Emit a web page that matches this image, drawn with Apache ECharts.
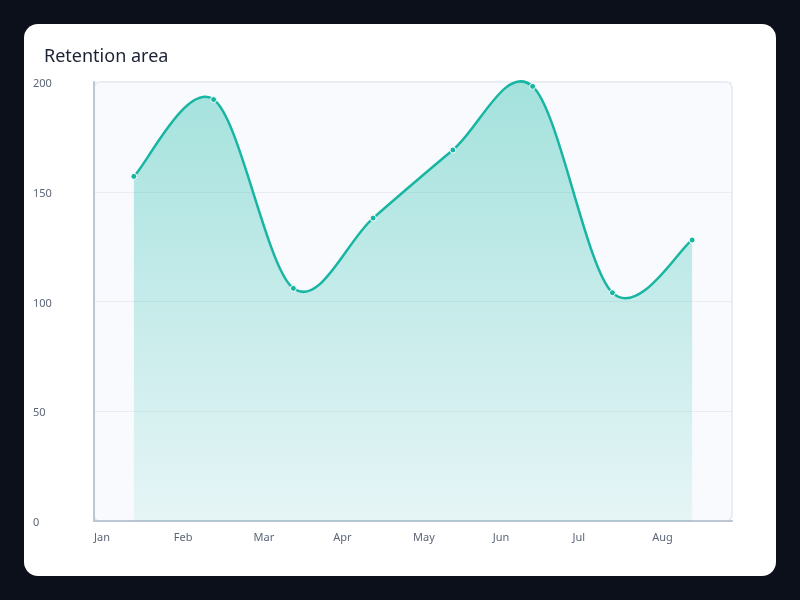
<!DOCTYPE html>
<html>
<head>
<meta charset="utf-8">
<script src="https://cdn.jsdelivr.net/npm/echarts@6/dist/echarts.min.js"></script>
<style>
    html, body { margin: 0; padding: 0; width: 800px; height: 600px; background: #0c101a; }
    #card {
        position: absolute; left: 24px; top: 24px; width: 752px; height: 552px;
        background: #ffffff; border-radius: 14px; overflow: hidden;
    }
    #chart { width: 752px; height: 552px; }
</style>
</head>
<body>
<div id="card"><div id="chart"></div></div>
<script>
// Datos
const meses = ['Jan', 'Feb', 'Mar', 'Apr', 'May', 'Jun', 'Jul', 'Aug'];
const retencion = [157, 192, 106, 138, 169, 198, 104, 128];
const ticksY = [0, 50, 100, 150, 200];

const grid = {left: 70, top: 58, right: 44, bottom: 55};
const verde = '#17b6a2';

const chartDom = document.getElementById('chart');
const myChart = echarts.init(chartDom);

// cada punto en el centro de su mes
const datos = retencion.map((v, i) => [i + 0.5, v]);

/**
 * Curva Catmull-Rom (uniforme) que pasa por los puntos, como path SVG.
 * El smooth de ECharts no deja pasarse de los puntos, asi que se dibuja a mano.
 */
function curvaCatmull(pts) {
    let d = `M${pts[0][0]},${pts[0][1]}`;
    for (let i = 0; i < pts.length - 1; i++) {
        const p0 = pts[i - 1] || pts[i];
        const p1 = pts[i];
        const p2 = pts[i + 1];
        const p3 = pts[i + 2] || p2;
        const c1x = p1[0] + (p2[0] - p0[0]) / 6;
        const c1y = p1[1] + (p2[1] - p0[1]) / 6;
        const c2x = p2[0] - (p3[0] - p1[0]) / 6;
        const c2y = p2[1] - (p3[1] - p1[1]) / 6;
        d += ` C${c1x},${c1y} ${c2x},${c2y} ${p2[0]},${p2[1]}`;
    }
    return d;
}

function pintarCurva(params, api) {
    // se pinta toda la curva una sola vez
    if (params.dataIndex !== 0) return null;
    const pts = datos.map(d => api.coord(d));
    const base0 = api.coord([datos[0][0], 0]);
    const baseN = api.coord([datos[datos.length - 1][0], 0]);
    const linea = curvaCatmull(pts);
    const area = linea + ` L${baseN[0]},${baseN[1]} L${base0[0]},${base0[1]} Z`;
    return {
        type: 'group',
        children: [
            {
                type: 'path',
                shape: {pathData: area},
                style: {
                    fill: new echarts.graphic.LinearGradient(0, 0, 0, 1, [
                        {offset: 0, color: 'rgba(20,184,166,0.37)'},
                        {offset: 1, color: 'rgba(20,184,166,0.08)'}
                    ]),
                    stroke: null
                }
            },
            {
                type: 'path',
                shape: {pathData: linea},
                style: {fill: null, stroke: verde, lineWidth: 2.5}
            }
        ]
    };
}

const option = {
    animation: false,
    textStyle: {fontFamily: 'Noto Sans'},
    title: {
        text: 'Retention area',
        left: 20,
        top: 24,
        padding: 0,
        textStyle: {fontSize: 18, fontWeight: 'normal', color: '#1b2233', fontFamily: 'Noto Sans'}
    },
    graphic: [{
        type: 'rect',
        z: -10,
        silent: true,
        shape: {x: grid.left, y: grid.top, width: 752 - grid.left - grid.right, height: 552 - grid.top - grid.bottom, r: 6},
        style: {fill: '#f8fafd', stroke: '#e3e8ef', lineWidth: 1.5}
    }],
    grid: grid,
    xAxis: {
        type: 'value',
        min: 0,
        max: meses.length,
        interval: 1,
        axisLine: {show: true, lineStyle: {color: '#bcc6d4', width: 2}},
        axisTick: {show: false},
        splitLine: {show: false},
        axisLabel: {
            align: 'left',
            margin: 11,
            fontSize: 11,
            color: '#5c6577',
            formatter: v => meses[v] || ''
        }
    },
    yAxis: {
        type: 'value',
        min: ticksY[0],
        max: ticksY[ticksY.length - 1],
        interval: 50,
        axisLine: {show: true, lineStyle: {color: '#bcc6d4', width: 2}},
        axisTick: {show: false},
        splitLine: {lineStyle: {color: '#e9edf3', width: 1}},
        axisLabel: {align: 'left', verticalAlign: 'top', lineHeight: 4, margin: 61, fontSize: 11, color: '#5c6577'}
    },
    series: [
        {
            name: 'RetentionCurva',
            type: 'custom',
            z: 2,
            renderItem: pintarCurva,
            data: datos
        },
        {
            name: 'Retention',
            type: 'line',
            z: 3,
            data: datos,
            symbol: 'circle',
            symbolSize: 6,
            itemStyle: {color: verde, borderColor: '#ffffff', borderWidth: 1},
            lineStyle: {opacity: 0}
        }
    ]
};

myChart.setOption(option);
window.addEventListener('resize', () => myChart.resize());
</script>
</body>
</html>
